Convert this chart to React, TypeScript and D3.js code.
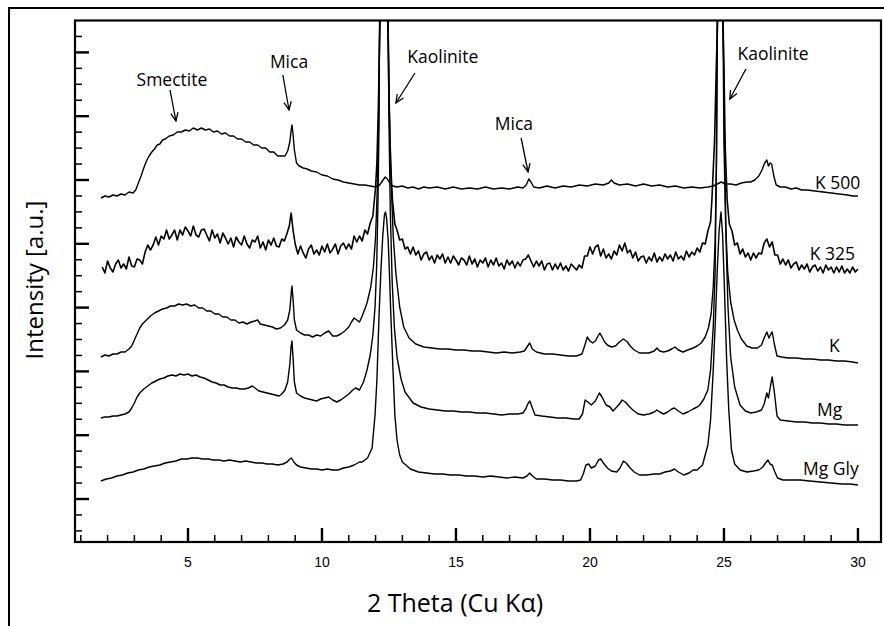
import React from "react";
import * as d3 from "d3";

// ---------- data (2θ in degrees, intensity in arbitrary units) ----------
const seriesNames = ["K 500", "K 325", "K", "Mg", "Mg Gly"];

const k500: [number, number][] = [
  [1.75,344],[1.9,346],[2.05,345],[2.2,347],[2.35,346],[2.5,348],[2.65,347],[2.8,350],[2.95,349],[3.05,352],
  [3.15,359],[3.25,366],[3.35,374],[3.45,381],[3.55,386],[3.65,390],[3.75,393],[3.85,397],[3.95,398],[4.05,402],
  [4.15,403],[4.3,406],[4.45,407],[4.6,410],[4.75,410],[4.9,412],[5.05,411],[5.2,414],[5.35,412],[5.5,414],
  [5.65,412],[5.8,413],[5.95,410],[6.1,411],[6.25,408],[6.4,409],[6.55,406],[6.7,406],[6.85,403],[7.0,403],
  [7.15,400],[7.3,400],[7.45,397],[7.6,397],[7.75,394],[7.9,394],[8.05,390],[8.2,390],[8.35,386],[8.5,386],
  [8.62,386],[8.72,391],[8.8,400],[8.85,412],[8.88,417],[8.92,408],[8.97,392],[9.05,379],[9.15,376],[9.3,374],
  [9.45,373],[9.6,371],[9.8,370],[10.0,367],[10.2,366],[10.4,363],[10.6,362],[10.8,360],[11.0,359],[11.2,358],
  [11.4,357],[11.6,357],[11.8,356],[12.0,355],[12.15,357],[12.28,362],[12.36,365],[12.44,363],[12.55,358],[12.65,356],
  [12.8,355],[13.0,356],[13.2,354],[13.4,355],[13.6,353],[13.8,355],[14.0,354],[14.3,355],[14.6,353],[14.9,355],
  [15.2,353],[15.5,354],[15.8,353],[16.1,355],[16.4,353],[16.7,354],[17.0,353],[17.3,355],[17.5,354],[17.62,357],
  [17.72,363],[17.8,360],[17.9,355],[18.1,354],[18.4,356],[18.7,354],[19.0,356],[19.3,355],[19.6,357],[19.9,356],
  [20.2,358],[20.5,357],[20.7,359],[20.8,362],[20.9,359],[21.1,357],[21.4,358],[21.7,356],[22.0,358],[22.3,356],
  [22.6,357],[22.9,355],[23.2,356],[23.5,354],[23.8,355],[24.1,354],[24.4,355],[24.6,356],[24.75,358],[24.9,360],
  [25.05,358],[25.25,358],[25.45,357],[25.65,359],[25.85,360],[26.0,360],[26.15,362],[26.3,366],[26.42,372],[26.52,379],
  [26.6,382],[26.66,376],[26.72,379],[26.78,378],[26.86,366],[26.95,357],[27.1,355],[27.3,355],[27.5,353],[27.7,354],
  [27.9,352],[28.1,352],[28.4,351],[28.7,350],[29.0,349],[29.3,348],[29.6,347],[29.8,346],[30.0,346]
];

const k325: [number, number][] = [
  [1.8,275],[1.9,269],[2.0,281],[2.1,274],[2.2,270],[2.3,278],[2.4,282],[2.5,274],[2.6,278],[2.7,273],
  [2.8,285],[2.9,276],[3.0,275],[3.1,283],[3.2,282],[3.3,278],[3.4,290],[3.5,297],[3.6,292],[3.7,297],
  [3.8,305],[3.9,297],[4.0,306],[4.1,303],[4.2,312],[4.3,303],[4.4,307],[4.5,312],[4.6,302],[4.7,312],
  [4.8,307],[4.9,315],[5.0,311],[5.1,306],[5.2,316],[5.3,307],[5.4,305],[5.5,312],[5.6,313],[5.7,307],
  [5.8,301],[5.9,312],[6.0,304],[6.1,308],[6.2,299],[6.3,309],[6.4,304],[6.5,298],[6.6,304],[6.7,295],
  [6.8,305],[6.9,300],[7.0,297],[7.1,306],[7.2,298],[7.3,294],[7.4,302],[7.5,300],[7.6,306],[7.7,294],
  [7.8,300],[7.9,292],[8.0,302],[8.1,297],[8.2,304],[8.3,296],[8.4,295],[8.5,303],[8.6,301],[8.7,309],
  [8.78,316],[8.85,329],[8.92,312],[9.0,298],[9.1,288],[9.2,296],[9.3,289],[9.4,284],[9.5,293],[9.6,297],
  [9.7,288],[9.8,292],[9.9,287],[10.0,296],[10.1,290],[10.2,298],[10.3,289],[10.4,293],[10.5,298],[10.6,288],
  [10.7,296],[10.8,299],[10.9,293],[11.0,298],[11.1,293],[11.2,306],[11.3,300],[11.4,306],[11.5,301],[11.6,312],
  [11.7,308],[11.8,319],[11.9,326],[12.0,355],[12.05,380],[12.1,430],[12.17,530],[12.31,900],[12.45,530],[12.5,440],
  [12.56,380],[12.63,342],[12.72,318],[12.8,312],[12.9,302],[13.0,303],[13.1,293],[13.2,295],[13.3,288],[13.4,295],
  [13.5,287],[13.6,291],[13.7,282],[13.8,288],[13.9,290],[14.0,282],[14.1,286],[14.2,279],[14.3,287],[14.4,283],
  [14.5,288],[14.6,279],[14.7,285],[14.8,279],[14.9,286],[15.0,282],[15.1,277],[15.2,284],[15.3,282],[15.4,277],
  [15.5,286],[15.6,278],[15.7,283],[15.8,275],[15.9,282],[16.0,279],[16.1,284],[16.2,275],[16.3,282],[16.4,277],
  [16.5,284],[16.6,276],[16.7,279],[16.8,273],[16.9,282],[17.0,277],[17.1,281],[17.2,274],[17.3,280],[17.4,276],
  [17.5,282],[17.6,283],[17.7,287],[17.8,281],[17.9,275],[18.0,281],[18.1,276],[18.2,281],[18.3,272],[18.4,278],
  [18.5,279],[18.6,272],[18.7,278],[18.8,273],[18.9,279],[19.0,272],[19.1,276],[19.2,271],[19.3,278],[19.4,275],
  [19.5,272],[19.6,277],[19.7,274],[19.8,286],[19.9,286],[20.0,295],[20.1,288],[20.2,295],[20.3,297],[20.4,286],
  [20.5,293],[20.6,284],[20.7,288],[20.8,283],[20.9,291],[21.0,287],[21.1,297],[21.2,291],[21.3,299],[21.4,289],
  [21.5,292],[21.6,284],[21.7,290],[21.8,281],[21.9,285],[22.0,286],[22.1,279],[22.2,285],[22.3,281],[22.4,289],
  [22.5,280],[22.6,285],[22.7,281],[22.8,288],[22.9,283],[23.0,287],[23.1,281],[23.2,290],[23.3,283],[23.4,286],
  [23.5,282],[23.6,291],[23.7,285],[23.8,290],[23.9,287],[24.0,294],[24.1,290],[24.2,299],[24.3,298],[24.4,311],
  [24.5,320],[24.55,342],[24.65,402],[24.72,482],[24.77,530],[24.86,900],[24.95,530],[25.0,472],[25.05,392],[25.12,342],
  [25.2,318],[25.3,311],[25.4,297],[25.5,299],[25.6,288],[25.7,293],[25.8,285],[25.9,289],[26.0,282],[26.1,289],
  [26.2,284],[26.3,289],[26.4,288],[26.5,299],[26.6,303],[26.7,295],[26.8,300],[26.9,287],[27.0,287],[27.1,278],
  [27.2,283],[27.3,277],[27.4,282],[27.5,274],[27.6,278],[27.7,280],[27.8,272],[27.9,277],[28.0,273],[28.1,278],
  [28.2,270],[28.3,275],[28.4,277],[28.5,271],[28.6,275],[28.7,269],[28.8,277],[28.9,272],[29.0,275],[29.1,269],
  [29.2,275],[29.3,270],[29.4,276],[29.5,269],[29.6,273],[29.7,269],[29.8,275],[29.9,270],[30.0,273]
];

const kSat: [number, number][] = [
  [1.75,185],[1.9,187],[2.05,186],[2.2,188],[2.35,188],[2.5,190],[2.65,190],[2.8,193],[2.9,196],[3.0,202],
  [3.1,208],[3.2,214],[3.3,218],[3.45,222],[3.6,226],[3.75,229],[3.9,231],[4.05,233],[4.2,234],[4.35,236],
  [4.5,236],[4.65,238],[4.8,237],[4.95,238],[5.1,236],[5.25,237],[5.4,234],[5.55,234],[5.7,231],[5.85,231],
  [6.0,228],[6.15,228],[6.3,225],[6.45,225],[6.6,222],[6.75,222],[6.9,219],[7.05,220],[7.2,218],[7.35,220],
  [7.5,221],[7.6,222],[7.7,218],[7.85,217],[8.0,216],[8.15,215],[8.3,213],[8.45,214],[8.6,217],[8.72,222],
  [8.8,232],[8.85,248],[8.88,256],[8.92,243],[8.97,222],[9.05,212],[9.2,209],[9.35,207],[9.5,207],[9.65,205],
  [9.8,207],[9.95,206],[10.1,209],[10.25,211],[10.4,206],[10.55,206],[10.7,208],[10.85,211],[11.0,215],[11.1,220],
  [11.2,224],[11.3,222],[11.4,220],[11.5,226],[11.6,233],[11.68,239],[11.82,255],[11.92,275],[12.0,305],[12.06,350],
  [12.11,420],[12.16,530],[12.31,900],[12.46,530],[12.52,430],[12.58,360],[12.66,305],[12.76,268],[12.9,235],[13.05,215],
  [13.25,204],[13.5,198],[13.8,195],[14.1,194],[14.4,193],[14.7,193],[15.0,192],[15.3,192],[15.6,191],[15.9,191],
  [16.2,190],[16.5,189],[16.8,190],[17.1,189],[17.4,190],[17.55,191],[17.65,195],[17.75,199],[17.85,193],[18.0,190],
  [18.3,188],[18.6,188],[18.9,187],[19.2,186],[19.5,186],[19.7,188],[19.8,196],[19.9,205],[20.0,201],[20.1,199],
  [20.2,201],[20.3,206],[20.37,209],[20.45,205],[20.55,200],[20.65,197],[20.8,195],[20.95,196],[21.1,200],[21.25,203],
  [21.4,200],[21.5,196],[21.65,192],[21.85,189],[22.0,189],[22.2,189],[22.4,191],[22.5,194],[22.6,191],[22.75,190],
  [22.9,191],[23.05,193],[23.17,195],[23.3,192],[23.47,190],[23.65,192],[23.85,194],[24.0,196],[24.15,199],[24.3,205],
  [24.42,214],[24.52,228],[24.6,255],[24.67,300],[24.72,380],[24.76,530],[24.86,900],[24.96,530],[25.0,400],[25.06,320],
  [25.14,270],[25.25,240],[25.38,222],[25.5,212],[25.65,203],[25.85,196],[26.05,194],[26.25,194],[26.4,197],[26.5,204],
  [26.6,210],[26.68,204],[26.75,208],[26.8,210],[26.88,198],[26.98,186],[27.15,185],[27.4,184],[27.7,184],[28.0,183],
  [28.3,183],[28.6,182],[28.9,182],[29.2,181],[29.5,181],[29.8,180],[30.0,179]
];

const mg: [number, number][] = [
  [1.75,124],[1.9,125],[2.05,125],[2.2,126],[2.35,126],[2.5,127],[2.65,128],[2.8,130],[2.9,134],[3.0,139],
  [3.1,145],[3.2,149],[3.35,153],[3.5,156],[3.65,159],[3.8,161],[3.95,163],[4.1,164],[4.25,166],[4.4,167],
  [4.55,166],[4.7,168],[4.85,167],[5.0,168],[5.15,166],[5.3,167],[5.45,165],[5.6,164],[5.75,162],[5.9,160],
  [6.05,159],[6.2,157],[6.35,157],[6.5,155],[6.65,154],[6.8,154],[6.95,153],[7.1,153],[7.25,154],[7.4,156],
  [7.5,154],[7.65,151],[7.8,150],[7.95,149],[8.1,148],[8.25,147],[8.4,146],[8.5,148],[8.62,152],[8.72,160],
  [8.8,178],[8.85,196],[8.88,201],[8.92,185],[8.97,160],[9.05,149],[9.2,146],[9.35,144],[9.5,143],[9.65,142],
  [9.8,141],[9.95,143],[10.1,144],[10.25,145],[10.4,142],[10.55,140],[10.7,142],[10.85,145],[11.0,148],[11.15,152],
  [11.25,154],[11.4,152],[11.55,160],[11.68,172],[11.8,187],[11.9,207],[11.98,235],[12.04,275],[12.09,340],[12.13,420],
  [12.15,530],[12.31,900],[12.47,530],[12.5,420],[12.55,330],[12.62,260],[12.7,215],[12.8,185],[12.95,163],[13.1,150],
  [13.4,139],[13.7,135],[14.0,133],[14.3,132],[14.6,131],[14.9,131],[15.2,130],[15.5,130],[15.8,129],[16.1,129],
  [16.4,128],[16.7,127],[17.0,128],[17.3,128],[17.5,129],[17.6,133],[17.7,139],[17.76,141],[17.85,134],[17.95,127],
  [18.2,126],[18.5,125],[18.8,124],[19.1,124],[19.4,123],[19.6,123],[19.72,128],[19.82,142],[19.92,140],[20.05,137],
  [20.2,141],[20.35,149],[20.45,145],[20.6,137],[20.75,135],[20.86,131],[21.0,135],[21.1,138],[21.2,142],[21.32,140],
  [21.45,136],[21.6,132],[21.8,128],[22.0,127],[22.2,128],[22.4,130],[22.5,132],[22.6,130],[22.75,128],[22.9,130],
  [23.05,133],[23.15,134],[23.3,131],[23.47,128],[23.65,130],[23.85,133],[24.0,135],[24.1,137],[24.25,143],[24.4,152],
  [24.5,172],[24.6,215],[24.67,270],[24.72,380],[24.75,530],[24.86,900],[24.97,530],[25.02,400],[25.08,300],[25.15,235],
  [25.25,185],[25.4,155],[25.6,137],[25.8,131],[26.0,129],[26.2,130],[26.4,132],[26.5,138],[26.6,149],[26.66,144],
  [26.73,155],[26.8,165],[26.88,150],[26.98,126],[27.1,122],[27.4,121],[27.7,120],[28.0,120],[28.3,119],[28.6,119],
  [28.9,118],[29.2,118],[29.5,117],[29.8,117],[30.0,117]
];

const mgGly: [number, number][] = [
  [1.75,61],[1.95,63],[2.15,64],[2.35,66],[2.55,67],[2.75,69],[2.95,70],[3.15,72],[3.35,73],[3.55,75],
  [3.75,76],[3.95,77],[4.15,79],[4.35,80],[4.55,81],[4.75,83],[4.95,83],[5.15,84],[5.35,84],[5.55,83],
  [5.75,83],[5.95,82],[6.15,82],[6.35,81],[6.55,82],[6.75,81],[6.95,80],[7.15,81],[7.35,80],[7.55,79],
  [7.75,79],[7.95,78],[8.15,78],[8.35,77],[8.55,78],[8.7,80],[8.8,83],[8.86,84],[8.95,80],[9.05,77],
  [9.2,75],[9.4,74],[9.6,73],[9.8,73],[10.0,72],[10.2,73],[10.4,72],[10.6,72],[10.8,74],[11.0,75],
  [11.2,77],[11.4,80],[11.5,80],[11.7,84],[11.87,94],[11.98,127],[12.05,162],[12.13,227],[12.2,272],[12.27,307],
  [12.33,327],[12.37,330],[12.41,324],[12.47,302],[12.52,267],[12.57,227],[12.65,172],[12.72,127],[12.8,102],[12.9,87],
  [13.0,80],[13.3,73],[13.6,70],[13.9,69],[14.2,68],[14.5,68],[14.8,67],[15.1,67],[15.4,66],[15.7,66],
  [16.0,65],[16.3,66],[16.6,65],[16.9,64],[17.2,65],[17.5,64],[17.65,66],[17.75,69],[17.85,66],[18.0,63],
  [18.3,63],[18.6,62],[18.9,62],[19.2,61],[19.5,61],[19.65,62],[19.75,68],[19.85,77],[19.95,78],[20.05,74],
  [20.2,76],[20.32,82],[20.4,83],[20.5,79],[20.65,74],[20.8,71],[21.0,70],[21.12,74],[21.25,81],[21.35,79],
  [21.5,74],[21.65,70],[21.85,67],[22.1,67],[22.4,68],[22.6,68],[22.8,70],[23.0,71],[23.15,73],[23.3,70],
  [23.5,67],[23.7,69],[23.85,72],[24.0,72],[24.2,77],[24.4,97],[24.5,122],[24.6,172],[24.68,222],[24.75,272],
  [24.82,312],[24.89,330],[24.95,307],[25.02,252],[25.1,182],[25.18,132],[25.28,92],[25.4,78],[25.6,72],[25.86,70],
  [26.1,71],[26.3,72],[26.45,75],[26.55,79],[26.64,82],[26.72,78],[26.8,77],[26.9,70],[27.0,64],[27.2,62],
  [27.5,62],[27.84,62],[28.2,61],[28.6,60],[29.0,59],[29.4,58],[29.7,58],[30.0,57]
];

const seriesData = [k500, k325, kSat, mg, mgGly];
// label anchor (2θ, intensity) for each series name
const seriesLabelAt: [number, number][] = [[28.4, 353], [28.2, 282], [28.92, 190], [28.47, 126], [27.95, 67]];

const xTickLabels = [5, 10, 15, 20, 25, 30];

// annotations: text anchor (2θ, intensity), arrow from -> to (2θ, intensity)
const annoText = ["Smectite", "Mica", "Kaolinite", "Mica", "Kaolinite"];
const annoTextAt: [number, number][] = [[4.4, 456], [8.77, 474], [14.51, 479], [17.16, 412], [26.83, 482]];
const annoFrom: [number, number][] = [[4.33, 452], [8.54, 467], [13.47, 469], [17.43, 404], [25.82, 473]];
const annoTo: [number, number][] = [[4.55, 421], [8.77, 432], [12.76, 439], [17.69, 370], [25.22, 443]];

// ---------- layout ----------
const W = 884;
const H = 626;
const plot = { left: 75, top: 20.5, right: 881, bottom: 542 };
const yTickOrigin = 43;
const yTickStep = 15.95;

export default function App() {
  const x = d3.scaleLinear().domain([0.784, 30.86]).range([plot.left, plot.right]);
  const y = d3.scaleLinear().domain([0, 521.5]).range([plot.bottom, plot.top]);
  const line = d3
    .line<[number, number]>()
    .x((d) => x(d[0]))
    .y((d) => y(d[1]));

  const xTicks = d3.range(1, 31);
  const yTicks = d3.range(-2, 30).map((k) => ({ v: yTickOrigin + k * yTickStep, major: k % 4 === 0 }));

  const arrowHead = (fx: number, fy: number, tx: number, ty: number) => {
    const ang = Math.atan2(ty - fy, tx - fx);
    const len = 9;
    const spread = 0.42;
    const a1 = ang + Math.PI - spread;
    const a2 = ang + Math.PI + spread;
    return `M${tx + len * Math.cos(a1)},${ty + len * Math.sin(a1)}L${tx},${ty}L${tx + len * Math.cos(a2)},${ty + len * Math.sin(a2)}`;
  };

  const sans = "'Open Sans', 'Noto Sans', sans-serif";
  const tickFont = "'Liberation Sans', Arial, sans-serif";

  return (
    <svg
      width={W}
      height={H}
      viewBox={`0 0 ${W} ${H}`}
      style={{ position: "absolute", left: 0, top: 0, background: "#fff" }}
    >
      <defs>
        <clipPath id="plotClip">
          <rect x={plot.left} y={plot.top} width={plot.right - plot.left} height={plot.bottom - plot.top} />
        </clipPath>
      </defs>
      {/* outer frame */}
      <rect x={9} y={8} width={W + 20} height={H + 20} fill="none" stroke="#000" strokeWidth={2} />

      {/* traces */}
      <g clipPath="url(#plotClip)">
        {seriesData.map((s, i) => (
          <path
            key={i}
            d={line(s) || ""}
            fill="none"
            stroke="#000"
            strokeWidth={i === 1 ? 1.6 : 1.4}
            strokeLinejoin="round"
          />
        ))}
      </g>

      {/* plot frame */}
      <rect
        x={plot.left}
        y={plot.top}
        width={plot.right - plot.left}
        height={plot.bottom - plot.top}
        fill="none"
        stroke="#000"
        strokeWidth={2.2}
      />

      {/* x ticks */}
      {xTicks.map((t) => {
        const major = t % 5 === 0;
        return (
          <line
            key={"xt" + t}
            x1={x(t)}
            x2={x(t)}
            y1={plot.bottom}
            y2={plot.bottom - (major ? 14 : 7)}
            stroke="#000"
            strokeWidth={major ? 2.4 : 1.5}
          />
        );
      })}
      {xTickLabels.map((t) => (
        <text
          key={"xl" + t}
          x={x(t)}
          y={567}
          textAnchor="middle"
          fontFamily={tickFont}
          fontSize={14}
          fill="#000"
        >
          {t}
        </text>
      ))}

      {/* y ticks */}
      {yTicks.map((t, i) => (
        <line
          key={"yt" + i}
          x1={plot.left}
          x2={plot.left + (t.major ? 14 : 7)}
          y1={y(t.v)}
          y2={y(t.v)}
          stroke="#000"
          strokeWidth={t.major ? 2.4 : 1.5}
        />
      ))}

      {/* axis titles */}
      <text x={455} y={612} textAnchor="middle" fontFamily={sans} fontSize={25} fill="#000">
        2 Theta (Cu Kα)
      </text>
      <text
        transform="translate(43,280) rotate(-90)"
        textAnchor="middle"
        fontFamily={sans}
        fontSize={24}
        fill="#000"
      >
        Intensity [a.u.]
      </text>

      {/* series labels */}
      {seriesNames.map((n, i) => (
        <text
          key={"sl" + i}
          x={x(seriesLabelAt[i][0])}
          y={y(seriesLabelAt[i][1])}
          fontFamily={sans}
          fontSize={17.5}
          fill="#000"
        >
          {n}
        </text>
      ))}

      {/* annotations */}
      {annoText.map((t, i) => {
        const fx = x(annoFrom[i][0]);
        const fy = y(annoFrom[i][1]);
        const tx = x(annoTo[i][0]);
        const ty = y(annoTo[i][1]);
        return (
          <g key={"an" + i}>
            <text
              x={x(annoTextAt[i][0])}
              y={y(annoTextAt[i][1])}
              textAnchor="middle"
              fontFamily={sans}
              fontSize={17.5}
              fill="#000"
            >
              {t}
            </text>
            <line x1={fx} y1={fy} x2={tx} y2={ty} stroke="#000" strokeWidth={1.3} />
            <path d={arrowHead(fx, fy, tx, ty)} fill="none" stroke="#000" strokeWidth={1.3} />
          </g>
        );
      })}
    </svg>
  );
}
